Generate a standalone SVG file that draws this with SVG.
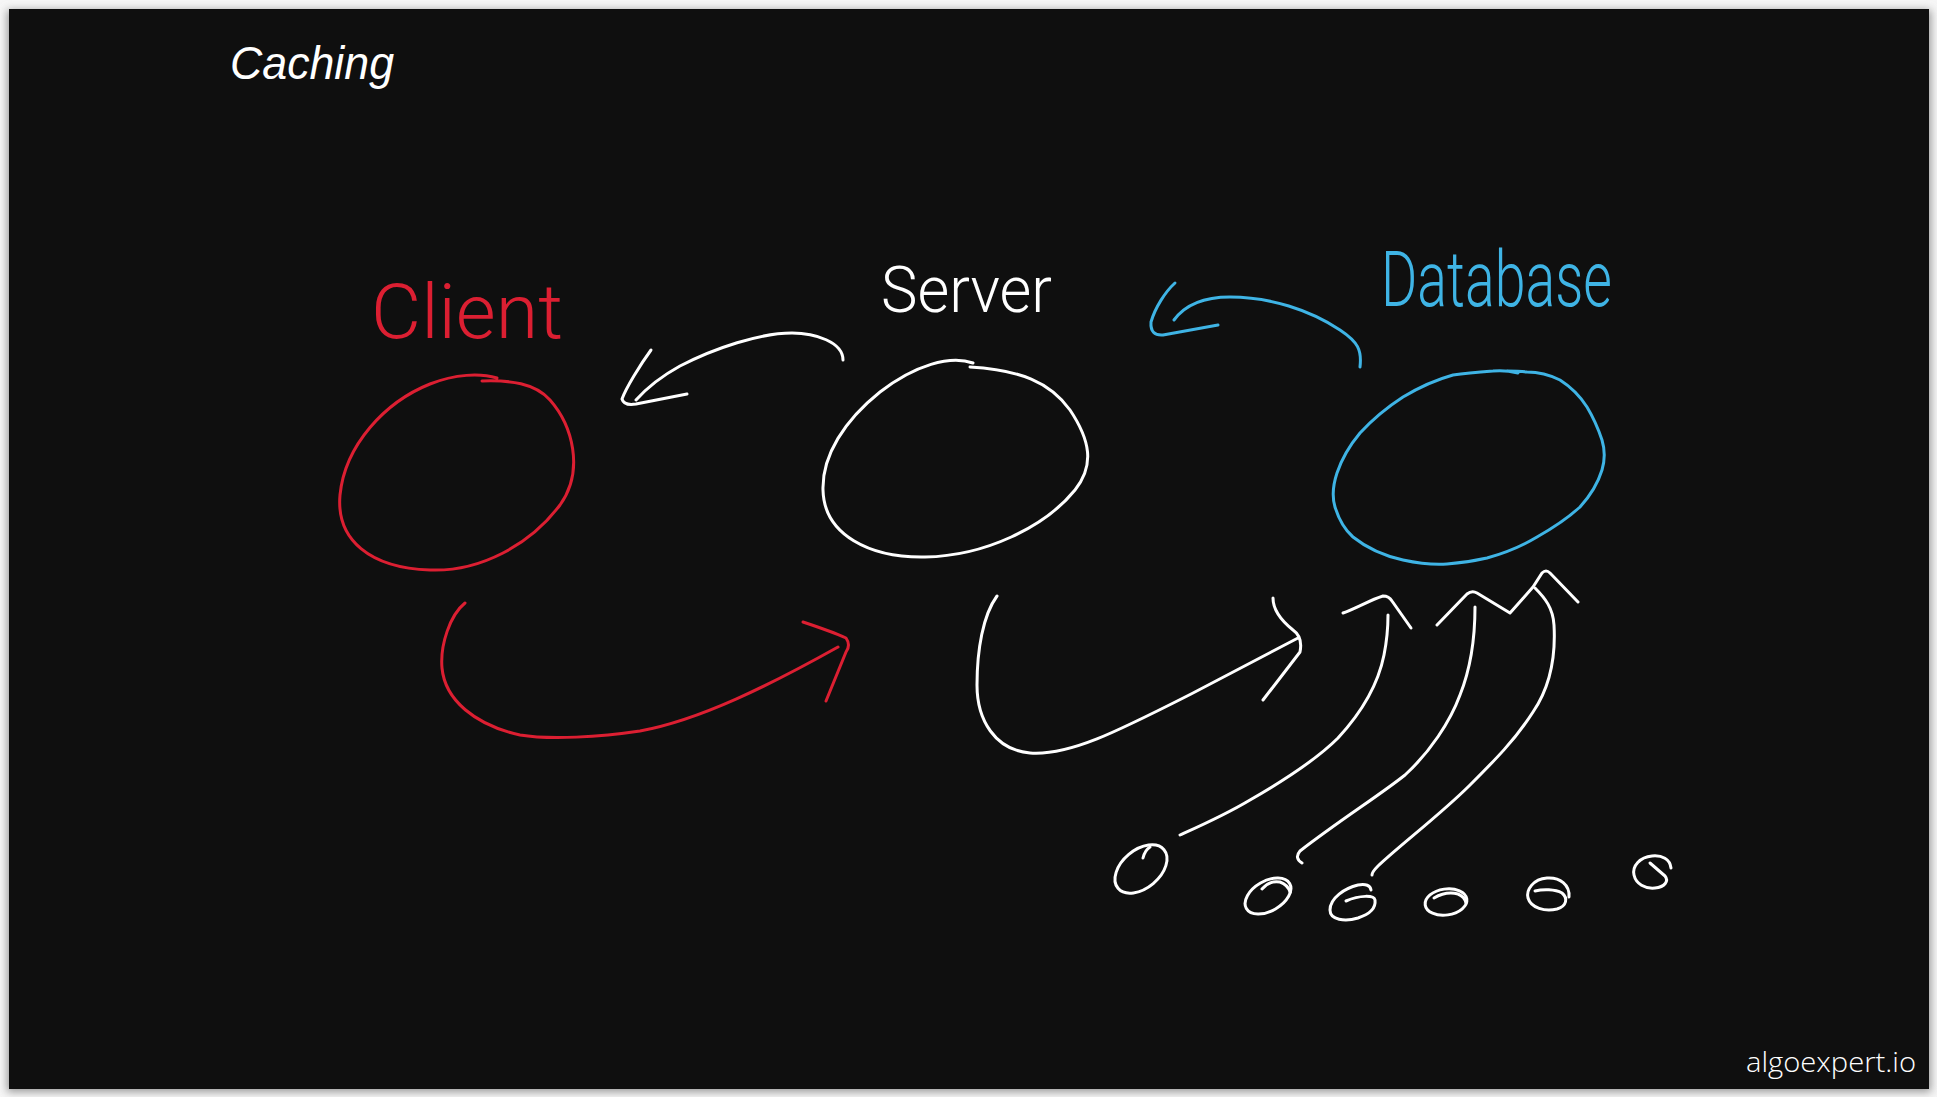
<svg xmlns="http://www.w3.org/2000/svg" width="1937" height="1097" viewBox="0 0 1937 1097">
  <defs>
    <filter id="shadow" x="-5%" y="-5%" width="110%" height="110%">
      <feGaussianBlur stdDeviation="4"/>
    </filter>
  </defs>
  <style>
    .ink { fill: none; stroke-width: 3; stroke-linecap: round; stroke-linejoin: round; }
    .red { stroke: #dc1f32; }
    .white { stroke: #ffffff; }
    .blue { stroke: #3fb4e5; }
    .label { font-family: Roboto, "Open Sans", "Liberation Sans", sans-serif; font-weight: 300; }
    .title { font-family: "Liberation Sans", Arial, sans-serif; font-style: italic; fill: #ffffff; }
    .brand { font-family: "Open Sans", Lato, "Liberation Sans", sans-serif; font-weight: 300; fill: #ffffff; }
  </style>

  <rect x="0" y="0" width="1937" height="1097" fill="#f6f6f6"/>
  <rect x="7" y="10" width="1924" height="1082" fill="#9a9a9a" filter="url(#shadow)"/>
  <rect x="9" y="9" width="1920" height="1080" fill="#0f0f0f"/>

  <text class="title" x="230" y="79" font-size="46" textLength="164" lengthAdjust="spacingAndGlyphs">Caching</text>

  <g id="client">
    <path class="ink red" d="M497,378 C480,373 455,374 430,384 C385,402 345,445 340,495 C336,540 370,568 430,570 C480,572 530,545 560,505 C585,470 572,425 550,400 C535,383 510,380 482,381"/>
    <text class="label" x="371" y="338" font-size="76" fill="#dc1f32" textLength="192" lengthAdjust="spacingAndGlyphs">Client</text>
  </g>

  <g id="server">
    <path class="ink white" d="M973,363 C950,355 915,365 880,392 C845,420 822,455 823,490 C824,535 870,558 925,557 C985,556 1045,527 1075,490 C1095,465 1090,440 1070,410 C1050,382 1020,370 970,367"/>
    <text class="label" x="881" y="312" font-size="64" fill="#ffffff" textLength="171" lengthAdjust="spacingAndGlyphs">Server</text>
  </g>

  <g id="database">
    <path class="ink blue" d="M1518,373 C1510,371 1502,370 1493,371 C1480,372 1467,373 1453,375 C1435,380 1418,388 1403,397 C1386,408 1372,420 1360,433 C1350,445 1342,458 1337,473 C1333,485 1332,497 1335,507 C1339,520 1345,530 1353,537 C1368,549 1385,556 1403,560 C1417,563 1432,565 1447,564 C1460,563 1474,561 1487,558 C1505,553 1522,546 1537,537 C1553,528 1568,518 1580,507 C1590,496 1598,483 1602,470 C1605,460 1605,450 1602,440 C1598,428 1593,417 1587,407 C1580,396 1571,387 1560,380 C1550,375 1538,372 1527,372 C1520,371 1513,371 1507,371"/>
    <text class="label" x="1381" y="306" font-size="78" fill="#3fb4e5" textLength="231" lengthAdjust="spacingAndGlyphs">Database</text>
  </g>

  <g id="users">
    <ellipse class="ink white" cx="1141" cy="869" rx="30" ry="19" transform="rotate(-40 1141 869)"/>
    <path class="ink white" d="M1143,858 Q1145,850 1150,847"/>
    <ellipse class="ink white" cx="1268" cy="896" rx="25" ry="15" transform="rotate(-30 1268 896)"/>
    <path class="ink white" d="M1262,889 Q1270,880 1280,882 Q1288,885 1290,892"/>
    <path class="ink white" d="M1371,890 Q1370,883 1358,885 C1345,888 1330,898 1330,910 C1330,920 1345,922 1358,918 C1370,914 1376,908 1375,900 C1374,895 1360,895 1346,901"/>
    <ellipse class="ink white" cx="1446" cy="902" rx="21" ry="13" transform="rotate(-8 1446 902)"/>
    <path class="ink white" d="M1434,898 Q1446,891 1458,894 Q1465,897 1466,903"/>
    <path class="ink white" d="M1569,897 C1570,885 1560,877 1547,878 C1533,879 1526,890 1528,898 C1531,908 1545,912 1557,909 C1567,906 1568,898 1562,893 C1555,889 1543,889 1535,891"/>
    <path class="ink white" d="M1671,868 C1670,859 1662,855 1652,856 C1640,857 1632,866 1634,875 C1636,884 1645,889 1655,888 C1665,887 1669,881 1665,876 L1650,863"/>
  </g>

  <g id="connectors">
    <!-- Server to Client -->
    <path class="ink white" d="M843,360 C843,342 815,333 792,333 C760,333 715,348 680,366 C660,377 645,390 636,400"/>
    <path class="ink white" d="M651,350 C640,365 626,388 622,399 Q624,406 636,404 L687,394"/>
    <!-- Database to Server -->
    <path class="ink blue" d="M1360,367 C1362,350 1358,342 1340,330 C1310,310 1270,297 1230,297 C1205,297 1185,305 1174,320"/>
    <path class="ink blue" d="M1175,283 C1165,292 1155,308 1151,322 Q1150,336 1163,335 L1218,325"/>
    <!-- Client to Server -->
    <path class="ink red" d="M465,603 C450,615 440,645 442,668 C445,700 475,725 520,735 C550,740 600,737 640,731 C700,720 770,685 838,647"/>
    <path class="ink red" d="M803,622 C815,626 835,633 846,638 Q851,645 846,652 L826,701"/>
    <!-- Server to Database -->
    <path class="ink white" d="M997,596 C983,615 977,650 977,685 C977,720 995,750 1030,753 C1070,756 1120,730 1193,693 L1298,638"/>
    <path class="ink white" d="M1273,598 C1273,610 1283,622 1293,630 Q1303,637 1300,652 L1263,700"/>
    <!-- Users to Database -->
    <path class="ink white" d="M1180,835 C1200,826 1225,815 1250,800 C1290,777 1318,758 1338,738 C1362,712 1378,685 1384,655 C1387,640 1388,628 1388,615"/>
    <path class="ink white" d="M1343,613 C1355,609 1370,600 1383,596 Q1389,596 1392,601 L1411,628"/>
    <path class="ink white" d="M1302,863 Q1294,858 1300,851 C1340,820 1380,795 1405,775 C1430,752 1450,722 1460,695 C1472,665 1475,630 1475,607"/>
    <path class="ink white" d="M1437,625 L1467,594 Q1472,590 1477,593 L1510,613 L1533,587 L1542,573 Q1546,569 1550,573 L1578,602"/>
    <path class="ink white" d="M1535,588 C1545,598 1553,608 1554,625 C1556,660 1548,690 1533,712 C1515,740 1495,760 1470,785 C1440,815 1400,845 1378,866 Q1372,872 1372,875"/>
  </g>

  <text class="brand" x="1746" y="1072" font-size="28" textLength="170" lengthAdjust="spacingAndGlyphs">algoexpert.io</text>
</svg>
